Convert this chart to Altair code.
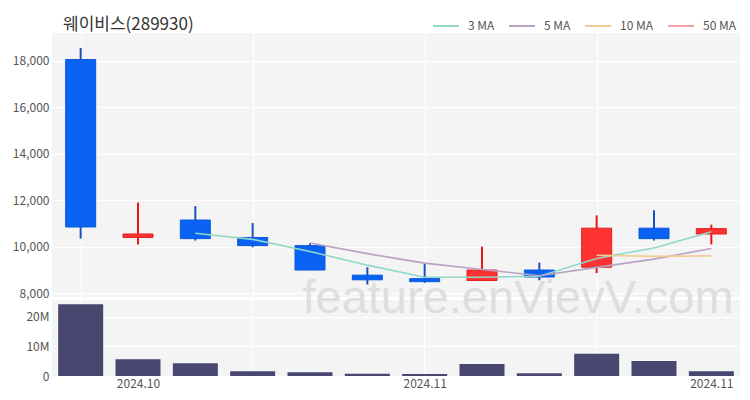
import altair as alt
import pandas as pd

title_text = "웨이비스(289930)"
watermark_text = "feature.enVievV.com"

idx = list(range(12))
opens = [18050, 10400, 11150, 10400, 10050, 8780, 8630, 8550, 9000, 9120, 10800, 10550]
highs = [18550, 11900, 11750, 11020, 10150, 9120, 9300, 10000, 9320, 11350, 11570, 10950]
lows = [10350, 10100, 10270, 9980, 9000, 8380, 8450, 8550, 8560, 8870, 10270, 10100]
closes = [10850, 10550, 10350, 10050, 9000, 8580, 8500, 9000, 8700, 10800, 10350, 10780]
volumes_m = [24.3, 5.7, 4.35, 1.6, 1.27, 0.8, 0.7, 4.1, 0.9, 7.5, 5.1, 1.6]

ma3 = [None, None, 10583, 10317, 9800, 9210, 8693, 8693, 8733, 9500, 9950, 10643]
ma5 = [None, None, None, None, 10160, 9706, 9296, 9026, 8756, 9116, 9470, 9926]
ma10 = [None] * 9 + [9638, 9588, 9611]
ma50 = [None] * 12

ma_names = ["3 MA", "5 MA", "10 MA", "50 MA"]
ma_colors = ["#8fd8c9", "#b9a3c4", "#f3cc94", "#f5a3a3"]

xtick_pos = [1, 6, 11]
xtick_labels = ["2024.10", "2024.11", "2024.11"]
grid_pos = [0, 3, 6, 9]
price_ticks = [8000, 10000, 12000, 14000, 16000, 18000]
vol_ticks = [0, 10, 20]

FONT = "Noto Sans CJK KR"
LABEL_COLOR = "#555"
UP_FILL, UP_STROKE, UP_WICK = "#ff3232", "#e51d1d", "#f01414"
DN_FILL, DN_STROKE, DN_WICK = "#0a62f2", "#0a58dc", "#1a50c0"

df = pd.DataFrame(dict(i=idx, open=opens, high=highs, low=lows, close=closes, vol=volumes_m))
df["dir"] = ["up" if c >= o else "down" for o, c in zip(opens, closes)]

rows = []
for name, arr in zip(ma_names, [ma3, ma5, ma10, ma50]):
    for i, v in zip(idx, arr):
        if v is not None:
            rows.append({"i": i, "v": v, "s": name})
ma_df = pd.DataFrame(rows)

xscale = alt.Scale(domain=[-0.5, 11.5], nice=False, zero=False, padding=0)
yscale = alt.Scale(domain=[7841, 19190], nice=False, zero=False, padding=0)

price_x_axis = alt.Axis(values=grid_pos, labels=False, ticks=False, domain=False,
                        grid=True, gridColor="white", gridWidth=1, title=None)
price_y_axis = alt.Axis(values=price_ticks, format=",d", title=None, domain=False, ticks=False,
                        labelPadding=3, minExtent=44, maxExtent=44, grid=True, gridColor="white",
                        labelFontSize=12, labelColor=LABEL_COLOR, labelFont=FONT)

base = alt.Chart(df)


def candles(direction, fill, stroke, wick):
    b = base.transform_filter(alt.datum.dir == direction)
    w = b.mark_rule(strokeWidth=2, color=wick).encode(
        x=alt.X("i:Q", scale=xscale, axis=price_x_axis),
        y=alt.Y("low:Q", scale=yscale, axis=price_y_axis), y2="high:Q")
    body = b.mark_bar(size=30, fill=fill, stroke=stroke, strokeWidth=1).encode(
        x=alt.X("i:Q", scale=xscale, axis=price_x_axis),
        y=alt.Y("open:Q", scale=yscale, axis=price_y_axis), y2="close:Q")
    return [w, body]


lines = alt.Chart(ma_df).mark_line(strokeWidth=1.6).encode(
    x=alt.X("i:Q", scale=xscale, axis=price_x_axis),
    y=alt.Y("v:Q", scale=yscale, axis=price_y_axis),
    color=alt.Color("s:N", scale=alt.Scale(domain=ma_names, range=ma_colors),
                    legend=alt.Legend(title=None, orient="none", legendX=380, legendY=-21,
                                      direction="horizontal", symbolType="stroke",
                                      symbolStrokeWidth=2, symbolSize=676,
                                      labelFontSize=12, labelColor=LABEL_COLOR, labelFont=FONT,
                                      columnPadding=10, labelOffset=8)),
)

price = alt.layer(*candles("down", DN_FILL, DN_STROKE, DN_WICK),
                  *candles("up", UP_FILL, UP_STROKE, UP_WICK),
                  lines).properties(width=688, height=264)

label_expr = " : ".join(f"datum.value == {p} ? '{l}'" for p, l in zip(xtick_pos, xtick_labels)) + " : ''"

vol_x_axis = alt.Axis(values=xtick_pos, labelExpr=label_expr, grid=False, ticks=False,
                      domain=False, title=None, labelFontSize=12, labelColor=LABEL_COLOR,
                      labelFont=FONT, labelPadding=2)

vgrid = alt.Chart(pd.DataFrame({"g": grid_pos})).mark_rule(color="white", strokeWidth=1).encode(
    x=alt.X("g:Q", scale=xscale, axis=vol_x_axis))

watermark = alt.Chart(pd.DataFrame({"t": [watermark_text]})).mark_text(
    font="Liberation Sans", fontSize=47, color="#dedede", align="center", baseline="alphabetic"
).encode(text="t:N", x=alt.value(466), y=alt.value(13))

bars = alt.Chart(df).mark_bar(size=45, color="#474770").encode(
    x=alt.X("i:Q", scale=xscale, axis=vol_x_axis),
    y=alt.Y("vol:Q", scale=alt.Scale(domain=[0, 25.7], nice=False, padding=0),
            axis=alt.Axis(values=vol_ticks, labelExpr="datum.value == 0 ? '0' : datum.value + 'M'",
                          title=None, domain=False, ticks=False, minExtent=44, maxExtent=44,
                          grid=True, gridColor="white", labelPadding=3, labelFontSize=12,
                          labelColor=LABEL_COLOR, labelFont=FONT)),
)

volume = alt.layer(vgrid, bars, watermark).properties(width=688, height=76)

chart = alt.vconcat(price, volume, spacing=3, bounds="flush").properties(
    title=alt.TitleParams(title_text, anchor="start", fontSize=17, font=FONT, color="#333",
                          fontWeight="normal", dx=55, offset=-22),
    padding={"left": 0, "top": 4, "right": 0, "bottom": 4},
).configure_view(fill="#f4f4f4", stroke=None)

chart.save("out.html", embed_options={"renderer": "svg", "actions": False})
